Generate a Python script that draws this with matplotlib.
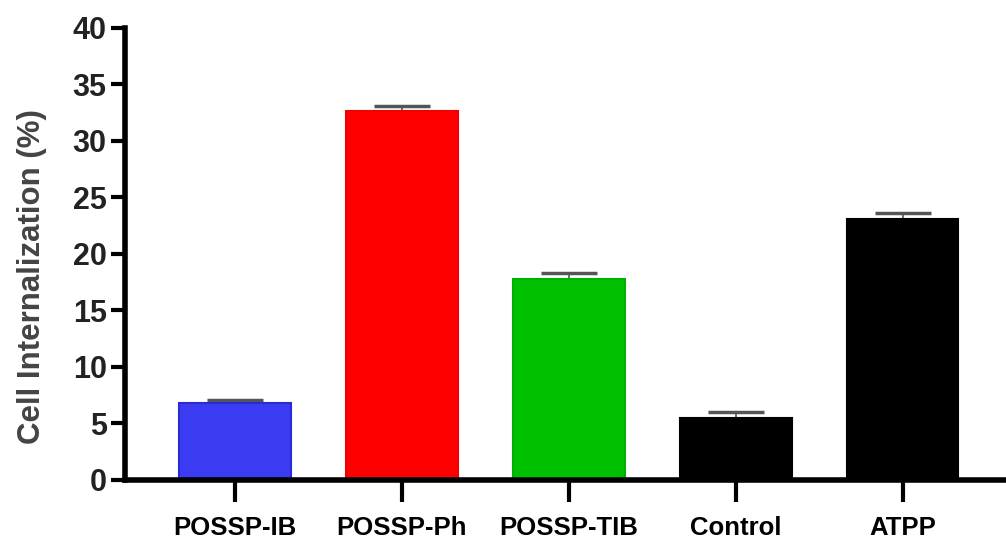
import matplotlib.pyplot as plt
import numpy as np

# values
groups = ["POSSP-IB", "POSSP-Ph", "POSSP-TIB", "Control", "ATPP"]
means = [6.8, 32.6, 17.8, 5.5, 23.1]
sem = [0.25, 0.5, 0.5, 0.55, 0.5]
bar_colors = ["#3b3bf2", "#ff0000", "#00c000", "#000000", "#000000"]
edge_colors = ["#2a2ad8", "#f00000", "#00b000", "#000000", "#000000"]
y_ticks = [0, 5, 10, 15, 20, 25, 30, 35, 40]

plt.rcParams["font.family"] = ["Liberation Sans", "DejaVu Sans"]

fig = plt.figure(figsize=(10.06, 5.46), dpi=100)
ax = fig.add_axes([0.124, 0.121, 0.876, 0.828])

x = np.arange(len(groups))
# error bars sit behind the bars, so only the upper half shows
ax.errorbar(x, means, yerr=sem, fmt="none",
            ecolor="#555555", elinewidth=1.2, capsize=20, capthick=2.5, zorder=1)
ax.bar(x, means, width=0.67, color=bar_colors, edgecolor=edge_colors,
       linewidth=1.5, zorder=2)

ax.set_ylim(0, 40)
ax.set_xlim(-0.66, 4.62)
ax.set_yticks(y_ticks)
ax.set_xticks(x)
ax.set_xticklabels(groups, fontsize=18.5, fontweight="bold")
ax.set_yticklabels([str(t) for t in y_ticks], fontsize=22, fontweight="bold",
                   color="#222222")

for side in ("top", "right"):
    ax.spines[side].set_visible(False)
for side in ("left", "bottom"):
    ax.spines[side].set_linewidth(4)
    ax.spines[side].set_zorder(4)

ax.tick_params(axis="y", length=10, width=3, pad=3)
ax.tick_params(axis="x", length=16, width=3, pad=10)

ax.set_ylabel("Cell Internalization (%)", fontsize=22.5, fontweight="bold",
              color="#444444")
ax.yaxis.set_label_coords(-0.088, 0.45)

fig.savefig("out.png", dpi=100)
